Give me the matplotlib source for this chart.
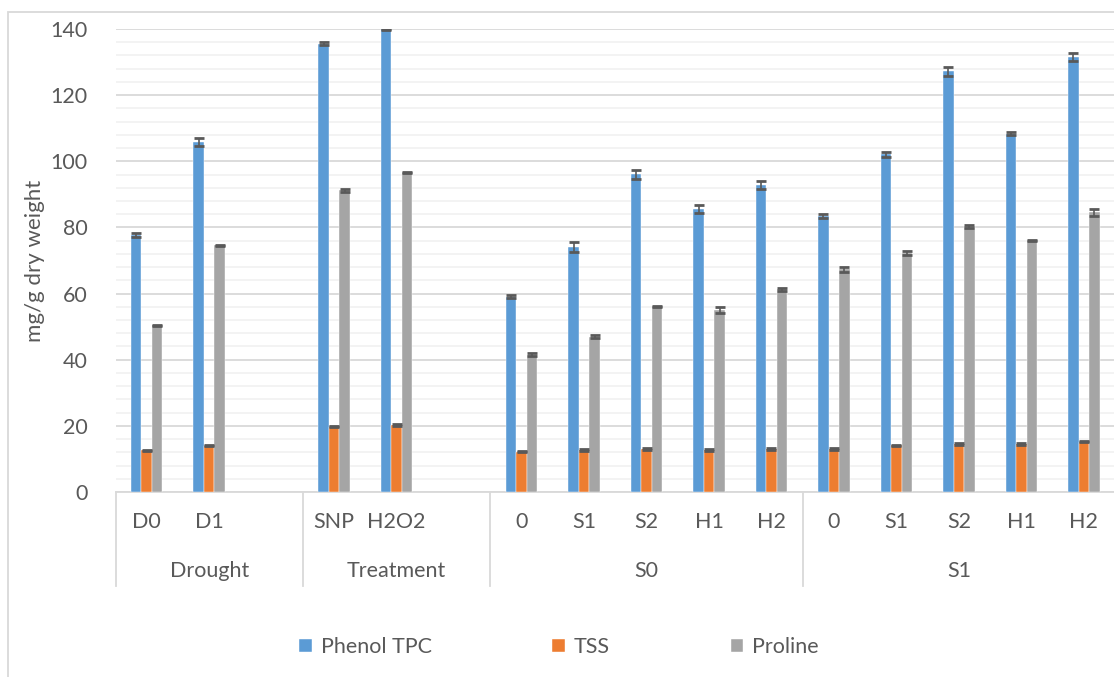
import numpy as np
import matplotlib
matplotlib.use("Agg")
import matplotlib.pyplot as plt
import matplotlib.transforms as mtransforms
from matplotlib.patches import Rectangle

plt.rcParams['font.family'] = ['Lato', 'DejaVu Sans']

# categories (first level) and their groups (second level)
sub_labels = ['D0', 'D1', '', 'SNP', 'H2O2', '', '0', 'S1', 'S2', 'H1', 'H2', '0', 'S1', 'S2', 'H1', 'H2']
groups = ['Drought', 'Treatment', 'S0', 'S1']
group_sizes = [3, 3, 5, 5]

nan = np.nan
phenol = [77.8, 105.8, nan, 135.6, 139.9, nan, 59.1, 74.1, 96.1, 85.6, 92.8, 83.4, 102.1, 127.2, 108.4, 131.5]
phenol_err = [0.6, 1.2, nan, 0.4, 0.2, nan, 0.4, 1.6, 1.4, 1.3, 1.1, 0.7, 0.75, 1.3, 0.45, 1.2]
tss = [12.6, 14.0, nan, 19.8, 20.3, nan, 12.2, 12.7, 13.0, 12.7, 13.0, 13.0, 14.1, 14.5, 14.5, 15.2]
tss_err = [0.2, 0.2, nan, 0.2, 0.2, nan, 0.2, 0.2, 0.2, 0.2, 0.2, 0.2, 0.2, 0.2, 0.2, 0.2]
proline = [50.4, 74.6, nan, 91.2, 96.6, nan, 41.5, 47.0, 56.0, 54.9, 61.3, 67.3, 72.3, 80.3, 76.0, 84.6]
proline_err = [0.2, 0.2, nan, 0.4, 0.2, nan, 0.4, 0.5, 0.2, 0.9, 0.4, 0.7, 0.5, 0.5, 0.2, 1.0]

series = [('Phenol TPC', phenol, phenol_err, '#5B9BD5'),
          ('TSS', tss, tss_err, '#ED7D31'),
          ('Proline', proline, proline_err, '#A5A5A5')]

W, H = 1114, 677
fig = plt.figure(figsize=(W / 100, H / 100), dpi=100)
ax = fig.add_axes([115.5 / W, 1 - 492 / H, 1 - 115.5 / W + 0.001, 463 / H])

x = np.arange(len(sub_labels))
w = 0.168
for i, (name, vals, errs, col) in enumerate(series):
    ax.bar(x + (i - 1) * w, vals, w, color=col, label=name, zorder=3,
           edgecolor='white', linewidth=0.3)
    ax.errorbar(x + (i - 1) * w, vals, yerr=errs, fmt='none', ecolor='#595959',
                elinewidth=1.2, capsize=3.6, capthick=2, zorder=4)

ax.set_xlim(-0.5, len(sub_labels) - 0.5)
ax.set_ylim(0, 140)
ax.set_yticks(np.arange(0, 141, 20))
ax.set_yticks(np.arange(0, 141, 4), minor=True)
ax.grid(True, which='major', axis='y', color='#D9D9D9', lw=1.3, zorder=1)
ax.grid(True, which='minor', axis='y', color='#F2F2F2', lw=1.3, zorder=0)
ax.tick_params(axis='y', which='both', length=0, pad=20, labelsize=15.5, labelcolor='#595959')
ax.tick_params(axis='x', which='both', length=0, labelbottom=False)
for s in ['top', 'right', 'left']:
    ax.spines[s].set_visible(False)
ax.spines['bottom'].set_color('#D9D9D9')
ax.spines['bottom'].set_linewidth(1.3)
ax.set_ylabel('mg/g dry weight', fontsize=16, color='#595959', labelpad=4)

# multi-level category axis
trans = mtransforms.blended_transform_factory(ax.transData, fig.transFigure)
for xi, lab in zip(x, sub_labels):
    ax.text(xi, 1 - 522 / H, lab, transform=trans, ha='center', va='center',
            fontsize=15.5, color='#595959')
start = 0
bounds = [-0.5]
for g, n in zip(groups, group_sizes):
    ax.text(start + (n - 1) / 2, 1 - 571 / H, g, transform=trans, ha='center', va='center',
            fontsize=15.5, color='#595959')
    start += n
    bounds.append(start - 0.5)
for b in bounds:
    ax.plot([b, b], [1 - 492 / H, 1 - 586 / H], transform=trans, color='#D9D9D9',
            lw=1.3, clip_on=False)

# chart frame
fig.patches.append(Rectangle((8 / W, -0.1), 1.2, 1 - 12 / H + 0.1, transform=fig.transFigure,
                             fill=False, edgecolor='#D9D9D9', lw=1.3))

handles, labels = ax.get_legend_handles_labels()
fig.legend(handles, labels, loc='center', bbox_to_anchor=(559 / W, 1 - 647 / H), ncol=3,
           frameon=False, fontsize=15.5, labelcolor='#595959', handlelength=0.6,
           handleheight=0.6, handletextpad=0.4, columnspacing=5.6)

fig.savefig('out.png', dpi=100)
